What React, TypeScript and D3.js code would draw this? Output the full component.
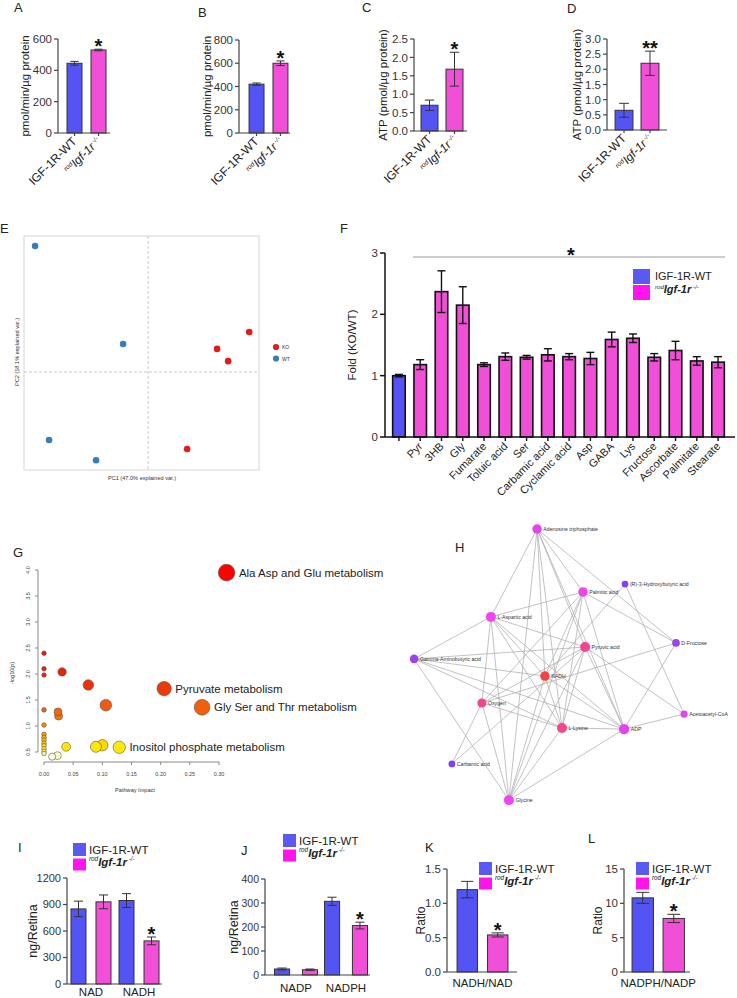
import React from "react";
import * as d3 from "d3";

const FONT = "'Liberation Sans', Arial, Helvetica, sans-serif";
const BLUE = "#5454f4";
const PINK = "#f24fd8";
const LEG_BLUE = "#5a5af2";
const LEG_PINK = "#ff14ee";

// ---------------- data ----------------
const genotypes = ["IGF-1R-WT", "rodIgf-1r-/-"];

const ocrA = [445, 530];
const ocrAErr = [12, 5];
const ocrB = [420, 600];
const ocrBErr = [10, 20];
const atpC = [0.7, 1.68];
const atpCErr = [0.14, 0.46];
const atpD = [0.65, 2.2];
const atpDErr = [0.23, 0.4];

const ticksA = [0, 200, 400, 600];
const ticksB = [0, 200, 400, 600, 800];
const ticksC = [0, 0.5, 1.0, 1.5, 2.0, 2.5];
const ticksD = [0, 0.5, 1.0, 1.5, 2.0, 2.5, 3.0];

const metabolites = ["WT", "Pyr", "3HB", "Gly", "Fumarate", "Toluic acid", "Ser", "Carbamic acid", "Cyclamic acid", "Asp", "GABA", "Lys", "Fructose", "Ascorbate", "Palmitate", "Stearate"];
const foldValues = [1.0, 1.18, 2.37, 2.15, 1.18, 1.31, 1.3, 1.34, 1.31, 1.28, 1.59, 1.61, 1.3, 1.41, 1.24, 1.22];
const foldErrors = [0.02, 0.08, 0.34, 0.3, 0.03, 0.06, 0.03, 0.1, 0.05, 0.1, 0.12, 0.07, 0.06, 0.15, 0.07, 0.09];
const ticksF = [0, 1, 2, 3];

const pcaGroupNames = ["KO", "WT"];
const pcaPC1 = [4.56, 3.11, 3.61, 1.76, -5.1, -1.13, -4.47, -2.35];
const pcaPC2 = [1.47, 0.85, 0.4, -2.83, 4.63, 1.03, -2.5, -3.24];
const pcaGroup = ["KO", "KO", "KO", "KO", "WT", "WT", "WT", "WT"];

const pathwayImpact = [0.313, 0.206, 0.271, 0.129, 0.076, 0.106, 0.031, 0.1, 0.089, 0.038, 0.024, 0.025, 0.023, 0.014, 0, 0, 0, 0, 0, 0, 0, 0, 0, 0, 0, 0, 0];
const pathwayLogP = [3.95, 1.72, 1.36, 0.59, 1.79, 1.4, 2.04, 0.63, 0.6, 0.6, 1.27, 1.19, 0.43, 0.41, 2.4, 2.1, 1.98, 1.31, 1.02, 0.84, 0.78, 0.73, 0.67, 0.62, 0.56, 0.51, 0.47];
const pathwayNames = ["Ala Asp and Glu metabolism", "Pyruvate metabolism", "Gly Ser and Thr metabolism", "Inositol phosphate metabolism"];
const ticksGx = [0, 0.05, 0.1, 0.15, 0.2, 0.25, 0.3];
const ticksGy = [0.5, 1.0, 1.5, 2.0, 2.5, 3.0, 3.5, 4.0];

const netNodes = ["Adenosine triphosphate", "(R)-3-Hydroxybutyric acid", "Palmitic acid", "L-Aspartic acid", "D-Fructose", "Pyruvic acid", "Gamma-Aminobutyric acid", "NADH", "Oxygen", "Acetoacetyl-CoA", "L-Lysine", "ADP", "Carbamic acid", "Glycine"];
const netLayoutX = [0.457, 0.75, 0.61, 0.303, 0.92, 0.617, 0.047, 0.483, 0.273, 0.947, 0.54, 0.747, 0.173, 0.363];
const netLayoutY = [0.031, 0.221, 0.248, 0.334, 0.424, 0.438, 0.479, 0.538, 0.631, 0.669, 0.717, 0.721, 0.841, 0.966];
const netScore = [0.5, 0.05, 0.55, 0.55, 0.2, 0.85, 0.2, 1.0, 0.85, 0.5, 0.85, 0.5, 0.05, 0.55];
const netEdges = [
  ["Adenosine triphosphate", "L-Aspartic acid"], ["Adenosine triphosphate", "Glycine"], ["Adenosine triphosphate", "NADH"],
  ["Adenosine triphosphate", "L-Lysine"], ["Adenosine triphosphate", "Pyruvic acid"], ["Adenosine triphosphate", "Palmitic acid"],
  ["Adenosine triphosphate", "ADP"], ["Adenosine triphosphate", "D-Fructose"],
  ["(R)-3-Hydroxybutyric acid", "NADH"], ["(R)-3-Hydroxybutyric acid", "Acetoacetyl-CoA"],
  ["Palmitic acid", "L-Aspartic acid"], ["Palmitic acid", "D-Fructose"], ["Palmitic acid", "NADH"], ["Palmitic acid", "L-Lysine"],
  ["Palmitic acid", "ADP"], ["Palmitic acid", "Glycine"], ["Palmitic acid", "Oxygen"],
  ["L-Aspartic acid", "Gamma-Aminobutyric acid"], ["L-Aspartic acid", "Pyruvic acid"], ["L-Aspartic acid", "NADH"],
  ["L-Aspartic acid", "Oxygen"], ["L-Aspartic acid", "L-Lysine"], ["L-Aspartic acid", "ADP"], ["L-Aspartic acid", "Glycine"],
  ["Gamma-Aminobutyric acid", "Pyruvic acid"], ["Gamma-Aminobutyric acid", "NADH"], ["Gamma-Aminobutyric acid", "L-Lysine"],
  ["Gamma-Aminobutyric acid", "Glycine"], ["Gamma-Aminobutyric acid", "ADP"],
  ["Pyruvic acid", "Oxygen"], ["Pyruvic acid", "L-Lysine"], ["Pyruvic acid", "ADP"], ["Pyruvic acid", "Acetoacetyl-CoA"], ["Pyruvic acid", "Glycine"],
  ["Oxygen", "D-Fructose"], ["NADH", "L-Lysine"], ["NADH", "Glycine"], ["NADH", "ADP"],
  ["Carbamic acid", "Oxygen"], ["Carbamic acid", "Pyruvic acid"],
  ["Oxygen", "L-Lysine"], ["Oxygen", "Glycine"],
  ["ADP", "Acetoacetyl-CoA"], ["ADP", "D-Fructose"], ["ADP", "L-Lysine"], ["ADP", "Glycine"], ["L-Lysine", "Glycine"],
];

const nadGroups = ["NAD", "NADH"];
const nadValues = [[850, 930], [945, 488]];
const nadErrors = [[88, 78], [78, 44]];
const ticksI = [0, 300, 600, 900, 1200];
const nadpGroups = ["NADP", "NADPH"];
const nadpValues = [[25, 22], [307, 206]];
const nadpErrors = [[4, 3], [17, 14]];
const ticksJ = [0, 100, 200, 300, 400];
const ratioKValues = [1.2, 0.54];
const ratioKErrors = [0.12, 0.03];
const ticksK = [0, 0.5, 1.0, 1.5];
const ratioLValues = [10.8, 7.8];
const ratioLErrors = [0.8, 0.6];
const ticksL = [0, 5, 10, 15];

// ---------------- helpers ----------------
function koTspans(fs: number, bold = false) {
  return [
    <tspan key="a" fontSize={fs * 0.55} fontStyle="italic" dy={-fs * 0.35}>rod</tspan>,
    <tspan key="b" fontStyle="italic" fontWeight={bold ? 700 : 400} dy={fs * 0.35}>Igf-1r</tspan>,
    <tspan key="c" fontSize={fs * 0.55} fontStyle="italic" dy={-fs * 0.35}>{" -/-"}</tspan>,
  ];
}

function genotypeLabel(i: number, fs: number, bold = false) {
  return i === 0 ? genotypes[0] : koTspans(fs, bold);
}

function YAxis({ scale, x, ticks, fmt, fs = 11.5, color = "#444", tl = 4, sw = 1.2, labelColor = "#333" }: any) {
  const lo = d3.min(ticks) as number;
  const hi = d3.max(ticks) as number;
  return (
    <g>
      <line x1={x} x2={x} y1={scale(lo)} y2={scale(hi)} stroke={color} strokeWidth={sw} />
      {ticks.map((t: number) => (
        <g key={t}>
          <line x1={x - tl} x2={x} y1={scale(t)} y2={scale(t)} stroke={color} strokeWidth={sw} />
          <text x={x - tl - 2} y={scale(t)} dy="0.36em" textAnchor="end" fontSize={fs} fill={labelColor}>{fmt(t)}</text>
        </g>
      ))}
    </g>
  );
}

function ErrorBar({ cx, yHi, yLo, w, color = "#333", sw = 1 }: any) {
  return (
    <g stroke={color} strokeWidth={sw}>
      <line x1={cx} x2={cx} y1={yHi} y2={yLo} />
      <line x1={cx - w / 2} x2={cx + w / 2} y1={yHi} y2={yHi} />
      <line x1={cx - w / 2} x2={cx + w / 2} y1={yLo} y2={yLo} />
    </g>
  );
}

function Letter({ x, y, t }: any) {
  return <text x={x} y={y} fontSize={13} fill="#222">{t}</text>;
}

function Legend({ x, y, size = 13, step = 15.5, fs = 11.5 }: any) {
  return (
    <g>
      <rect x={x} y={y} width={size} height={size} fill={LEG_BLUE} />
      <rect x={x} y={y + step} width={size} height={size - 1} fill={LEG_PINK} />
      <text x={x + size + 3} y={y + size / 2} dy="0.36em" fontSize={fs} fill="#222">{genotypes[0]}</text>
      <text x={x + size + 3} y={y + step + size / 2 + 0.5} dy="0.36em" fontSize={fs} fill="#222">{koTspans(fs, true)}</text>
    </g>
  );
}

function TwoBarPanel({ values, errors, ticks, fmt, axisX, rangeEnd, axisEnd, pi, po, y0, yTop, yLabel, yLabelX, stars }: any) {
  const y = d3.scaleLinear().domain([0, ticks[ticks.length - 1]]).range([y0, yTop]);
  const x = d3.scaleBand().domain(genotypes).range([axisX, rangeEnd]).paddingInner(pi).paddingOuter(po);
  const bw = x.bandwidth();
  const koCx = (x(genotypes[1]) as number) + bw / 2;
  return (
    <g>
      {genotypes.map((g, i) => {
        const bx = x(g) as number;
        const cx = bx + bw / 2;
        return (
          <g key={g}>
            <rect x={bx} y={y(values[i])} width={bw} height={y0 - y(values[i])} fill={i ? PINK : BLUE} stroke="#333" strokeWidth={1} />
            <ErrorBar cx={cx} yHi={y(values[i] + errors[i])} yLo={y(values[i] - errors[i])} w={bw * 0.55} />
            <line x1={cx} x2={cx} y1={y0} y2={y0 + 3} stroke="#444" strokeWidth={1.2} />
            <text transform={`translate(${cx + 3},${y0 + 9}) rotate(-45)`} textAnchor="end" fontSize={12} fill="#222">{genotypeLabel(i, 12)}</text>
          </g>
        );
      })}
      <line x1={axisX} x2={axisEnd} y1={y0} y2={y0} stroke="#444" strokeWidth={1.2} />
      <YAxis scale={y} x={axisX} ticks={ticks} fmt={fmt} />
      <text transform={`translate(${yLabelX},${(y0 + yTop) / 2}) rotate(-90)`} textAnchor="middle" fontSize={11.5} fill="#222">{yLabel}</text>
      <text x={koCx} y={y(values[1] + errors[1]) + 4} textAnchor="middle" fontSize={20} fontWeight={700} fill="#111">{stars}</text>
    </g>
  );
}

function GroupedBarPanel({ groups, values, errors, ticks, axisX, rangeEnd, axisEnd, pi, po, innerPi, y0, yTop, yLabel, yLabelX, labelY, starGroup, tickFs = 11.5 }: any) {
  const y = d3.scaleLinear().domain([0, ticks[ticks.length - 1]]).range([y0, yTop]);
  const x0 = d3.scaleBand().domain(groups).range([axisX, rangeEnd]).paddingInner(pi).paddingOuter(po);
  const x1 = d3.scaleBand().domain(genotypes).range([0, x0.bandwidth()]).paddingInner(innerPi);
  const bw = x1.bandwidth();
  return (
    <g>
      {groups.map((grp: string, gi: number) => (
        <g key={grp}>
          {genotypes.map((g, i) => {
            const bx = (x0(grp) as number) + (x1(g) as number);
            const cx = bx + bw / 2;
            const v = values[gi][i];
            const e = errors[gi][i];
            return (
              <g key={g}>
                <rect x={bx} y={y(v)} width={bw} height={y0 - y(v)} fill={i ? PINK : BLUE} stroke="#333" strokeWidth={1} />
                <ErrorBar cx={cx} yHi={y(v + e)} yLo={y(v - e)} w={bw * 0.6} />
                {gi === starGroup && i === 1 ? (
                  <text x={cx} y={y(v + e) + 4} textAnchor="middle" fontSize={20} fontWeight={700} fill="#111">*</text>
                ) : null}
              </g>
            );
          })}
          <text x={(x0(grp) as number) + x0.bandwidth() / 2} y={labelY} textAnchor="middle" fontSize={11.5} fill="#222">{grp}</text>
        </g>
      ))}
      <line x1={axisX} x2={axisEnd} y1={y0} y2={y0} stroke="#444" strokeWidth={1.2} />
      <YAxis scale={y} x={axisX} ticks={ticks} fmt={d3.format("d")} fs={tickFs} />
      <text transform={`translate(${yLabelX},${(y0 + yTop) / 2}) rotate(-90)`} textAnchor="middle" fontSize={12.5} fill="#222">{yLabel}</text>
    </g>
  );
}

function RatioPanel({ values, errors, ticks, fmt, axisX, rangeEnd, axisEnd, pi, po, y0, yTop, label, labelY, yLabelX }: any) {
  const y = d3.scaleLinear().domain([0, ticks[ticks.length - 1]]).range([y0, yTop]);
  const x = d3.scaleBand().domain(genotypes).range([axisX, rangeEnd]).paddingInner(pi).paddingOuter(po);
  const bw = x.bandwidth();
  return (
    <g>
      {genotypes.map((g, i) => {
        const bx = x(g) as number;
        const cx = bx + bw / 2;
        return (
          <g key={g}>
            <rect x={bx} y={y(values[i])} width={bw} height={y0 - y(values[i])} fill={i ? PINK : BLUE} stroke="#333" strokeWidth={1} />
            <ErrorBar cx={cx} yHi={y(values[i] + errors[i])} yLo={y(values[i] - errors[i])} w={bw * 0.6} />
            {i === 1 ? <text x={cx} y={y(values[i] + errors[i]) + 4} textAnchor="middle" fontSize={20} fontWeight={700} fill="#111">*</text> : null}
          </g>
        );
      })}
      <line x1={axisX} x2={axisEnd} y1={y0} y2={y0} stroke="#444" strokeWidth={1.2} />
      <YAxis scale={y} x={axisX} ticks={ticks} fmt={fmt} />
      <text x={(axisX + rangeEnd) / 2} y={labelY} textAnchor="middle" fontSize={11.5} fill="#222">{label}</text>
      <text transform={`translate(${yLabelX},${(y0 + yTop) / 2}) rotate(-90)`} textAnchor="middle" fontSize={12} fill="#222">Ratio</text>
    </g>
  );
}

function FoldPanel() {
  const y0 = 437;
  const y = d3.scaleLinear().domain([0, 3]).range([y0, 253]);
  const x = d3.scaleBand().domain(metabolites).range([385, 732]).paddingInner(0.41).paddingOuter(0.36);
  const bw = x.bandwidth();
  return (
    <g>
      <line x1={413} x2={725} y1={257} y2={257} stroke="#999" strokeWidth={1} />
      <text x={571} y={262} textAnchor="middle" fontSize={20} fontWeight={700} fill="#111">*</text>
      {metabolites.map((m, i) => {
        const bx = x(m) as number;
        const cx = bx + bw / 2;
        return (
          <g key={m}>
            <rect x={bx} y={y(foldValues[i])} width={bw} height={y0 - y(foldValues[i])} fill={i === 0 ? BLUE : PINK} stroke="#111" strokeWidth={1.6} />
            <ErrorBar cx={cx} yHi={y(foldValues[i] + foldErrors[i])} yLo={y(foldValues[i] - foldErrors[i])} w={8} color="#111" sw={1.4} />
            <line x1={cx} x2={cx} y1={y0} y2={y0 + 4} stroke="#111" strokeWidth={1.4} />
            {i > 0 ? (
              <text transform={`translate(${cx + 3},${y0 + 10}) rotate(-45)`} textAnchor="end" fontSize={11} fill="#222">{m}</text>
            ) : null}
          </g>
        );
      })}
      <line x1={385} x2={735} y1={y0} y2={y0} stroke="#111" strokeWidth={1.5} />
      <YAxis scale={y} x={385} ticks={ticksF} fmt={d3.format("d")} color="#111" sw={1.5} tl={5} />
      <text transform={`translate(356,${(y0 + 253) / 2}) rotate(-90)`} textAnchor="middle" fontSize={11.5} fill="#222">Fold (KO/WT)</text>
      <rect x={633} y={269} width={17} height={15} fill={LEG_BLUE} />
      <rect x={633} y={285} width={17} height={15} fill={LEG_PINK} />
      <text x={655} y={276.5} dy="0.36em" fontSize={11} fill="#222">{genotypes[0]}</text>
      <text x={655} y={293} dy="0.36em" fontSize={11} fill="#222">{koTspans(11, true)}</text>
    </g>
  );
}

function PcaPanel() {
  const x = d3.scaleLinear().domain([-5.6, 5.0]).range([24, 259]);
  const y = d3.scaleLinear().domain([-3.6, 5.0]).range([470, 236]);
  const color = d3.scaleOrdinal<string>().domain(pcaGroupNames).range(["#e41a1c", "#377eb8"]);
  return (
    <g>
      <rect x={24} y={236} width={235} height={234} fill="none" stroke="#d6d6d6" strokeWidth={1} />
      <line x1={x(0)} x2={x(0)} y1={236} y2={470} stroke="#bbb" strokeDasharray="3,2" strokeWidth={0.8} />
      <line x1={24} x2={259} y1={y(0)} y2={y(0)} stroke="#bbb" strokeDasharray="3,2" strokeWidth={0.8} />
      {pcaPC1.map((v, i) => (
        <circle key={i} cx={x(v)} cy={y(pcaPC2[i])} r={3.3} fill={color(pcaGroup[i])} />
      ))}
      {pcaGroupNames.map((g, i) => (
        <g key={g}>
          <circle cx={276} cy={347 + i * 11.5} r={3.1} fill={color(g)} />
          <text x={282} y={349 + i * 11.5} fontSize={5} fill="#333">{g}</text>
        </g>
      ))}
      <text x={142} y={480} textAnchor="middle" fontSize={5.6} fill="#333">PC1 (47.0% explained var.)</text>
      <text transform={`translate(19,352) rotate(-90)`} textAnchor="middle" fontSize={5.6} fill="#333">PC2 (18.1% explained var.)</text>
    </g>
  );
}

function PathwayPanel() {
  const x = d3.scaleLinear().domain([0, 0.3]).range([44, 219]);
  const y = d3.scaleLinear().domain([0.5, 4.0]).range([752, 570]);
  const r = d3.scaleSqrt().domain([0, 0.313]).range([2.3, 8.3]);
  const col = d3.scaleLinear<string>()
    .domain([0.41, 0.5, 0.6, 0.66, 0.85, 1.1, 1.4, 1.8, 2.2, 4.0])
    .range(["#fffce0", "#f4f070", "#ffe800", "#ffc400", "#f0a000", "#f08000", "#f05a10", "#ea3208", "#e81a00", "#ff0000"]);
  const order = d3.range(pathwayImpact.length).sort((a, b) => pathwayImpact[b] - pathwayImpact[a]);
  return (
    <g>
      <line x1={38} x2={38} y1={y(4.0)} y2={y(0.5)} stroke="#888" strokeWidth={1} />
      {ticksGy.map((t) => (
        <g key={t}>
          <line x1={35} x2={38} y1={y(t)} y2={y(t)} stroke="#888" />
          <text transform={`translate(29.5,${y(t)}) rotate(-90)`} textAnchor="middle" fontSize={5.5} fill="#444">{d3.format(".1f")(t)}</text>
        </g>
      ))}
      <line x1={x(0)} x2={x(0.3)} y1={762} y2={762} stroke="#888" strokeWidth={1} />
      {ticksGx.map((t) => (
        <g key={t}>
          <line x1={x(t)} x2={x(t)} y1={762} y2={765} stroke="#888" />
          <text x={x(t)} y={776} textAnchor="middle" fontSize={5.5} fill="#444">{d3.format(".2f")(t)}</text>
        </g>
      ))}
      <text x={135} y={792} textAnchor="middle" fontSize={5.6} fill="#333">Pathway Impact</text>
      <text transform={`translate(14,673) rotate(-90)`} textAnchor="middle" fontSize={5.6} fill="#333">-log10(p)</text>
      {order.map((i) => (
        <circle key={i} cx={x(pathwayImpact[i])} cy={y(pathwayLogP[i])} r={r(pathwayImpact[i])} fill={col(pathwayLogP[i])} stroke="#555" strokeWidth={0.6} />
      ))}
      {pathwayNames.map((n, i) => (
        <text key={n} x={x(pathwayImpact[i]) + r(pathwayImpact[i]) + 4} y={y(pathwayLogP[i])} dy="0.36em" fontSize={11.5} fill="#222">{n}</text>
      ))}
    </g>
  );
}

function NetworkPanel() {
  const x = d3.scaleLinear().domain([0, 1]).range([400, 700]);
  const y = d3.scaleLinear().domain([0, 1]).range([520, 810]);
  const idx = new Map(netNodes.map((n, i) => [n, i]));
  const degree = netNodes.map((n) => netEdges.filter((e) => e[0] === n || e[1] === n).length);
  const r = d3.scaleLinear().domain([2, 10]).range([3.4, 5.2]).clamp(true);
  const col = d3.scaleLinear<string>().domain([0, 0.25, 0.55, 0.85, 1]).range(["#7a3ff2", "#a344ec", "#ef44ee", "#f4468e", "#f24446"]);
  return (
    <g>
      {netEdges.map(([a, b], k) => {
        const i = idx.get(a) as number;
        const j = idx.get(b) as number;
        return <line key={k} x1={x(netLayoutX[i])} y1={y(netLayoutY[i])} x2={x(netLayoutX[j])} y2={y(netLayoutY[j])} stroke="#a8a8a8" strokeWidth={0.7} />;
      })}
      {netNodes.map((n, i) => (
        <g key={n}>
          <circle cx={x(netLayoutX[i])} cy={y(netLayoutY[i])} r={r(degree[i])} fill={col(netScore[i])} />
          <text x={x(netLayoutX[i]) + r(degree[i]) + 1.5} y={y(netLayoutY[i])} dy="0.36em" fontSize={5.2} fill="#333">{n}</text>
        </g>
      ))}
    </g>
  );
}

export default function App() {
  return (
    <svg width={737} height={998} viewBox="0 0 737 998" style={{ position: "absolute", left: 0, top: 0 }} fontFamily={FONT}>
      <rect width={737} height={998} fill="#fff" />
      <Letter x={14} y={12} t="A" />
      <Letter x={198} y={17} t="B" />
      <Letter x={362} y={12} t="C" />
      <Letter x={567} y={13} t="D" />
      <Letter x={0} y={233} t="E" />
      <Letter x={340} y={233} t="F" />
      <Letter x={13} y={557} t="G" />
      <Letter x={455} y={552} t="H" />
      <Letter x={18} y={852} t="I" />
      <Letter x={241} y={855} t="J" />
      <Letter x={425} y={852} t="K" />
      <Letter x={588} y={843} t="L" />

      <TwoBarPanel values={ocrA} errors={ocrAErr} ticks={ticksA} fmt={d3.format("d")} axisX={58} rangeEnd={115} axisEnd={110} pi={0.375} po={0.375} y0={133} yTop={39} yLabel="pmol/min/µg protein" yLabelX={29} stars="*" />
      <TwoBarPanel values={ocrB} errors={ocrBErr} ticks={ticksB} fmt={d3.format("d")} axisX={239} rangeEnd={298} axisEnd={290} pi={0.375} po={0.42} y0={133} yTop={40} yLabel="pmol/min/µg protein" yLabelX={211} stars="*" />
      <TwoBarPanel values={atpC} errors={atpCErr} ticks={ticksC} fmt={d3.format(".1f")} axisX={414} rangeEnd={470} axisEnd={467} pi={0.32} po={0.28} y0={131} yTop={39} yLabel="ATP (pmol/µg protein)" yLabelX={387} stars="*" />
      <TwoBarPanel values={atpD} errors={atpDErr} ticks={ticksD} fmt={d3.format(".1f")} axisX={607} rangeEnd={667} axisEnd={667} pi={0.31} po={0.31} y0={130} yTop={39} yLabel="ATP (pmol/µg protein)" yLabelX={581} stars="**" />

      <PcaPanel />
      <FoldPanel />
      <PathwayPanel />
      <NetworkPanel />

      <Legend x={73} y={843} />
      <GroupedBarPanel groups={nadGroups} values={nadValues} errors={nadErrors} ticks={ticksI} axisX={67} rangeEnd={163} axisEnd={162} pi={0.167} po={0.083} innerPi={0.4} y0={984} yTop={878} yLabel="ng/Retina" yLabelX={37} labelY={996} starGroup={1} tickFs={11} />
      <Legend x={283} y={834} />
      <GroupedBarPanel groups={nadpGroups} values={nadpValues} errors={nadpErrors} ticks={ticksJ} axisX={265} rangeEnd={377} axisEnd={370} pi={0.14} po={0.19} innerPi={0.46} y0={975} yTop={879} yLabel="ng/Retina" yLabelX={238} labelY={992} starGroup={1} tickFs={10.5} />
      <Legend x={479} y={862} />
      <RatioPanel values={ratioKValues} errors={ratioKErrors} ticks={ticksK} fmt={d3.format(".1f")} axisX={447} rangeEnd={518} axisEnd={517} pi={0.33} po={0.33} y0={972} yTop={869} label="NADH/NAD" labelY={987} yLabelX={425} />
      <Legend x={636} y={862} />
      <RatioPanel values={ratioLValues} errors={ratioLErrors} ticks={ticksL} fmt={d3.format("d")} axisX={624} rangeEnd={692.5} axisEnd={690} pi={0.31} po={0.26} y0={972} yTop={869} label="NADPH/NADP" labelY={987} yLabelX={602} />
    </svg>
  );
}
